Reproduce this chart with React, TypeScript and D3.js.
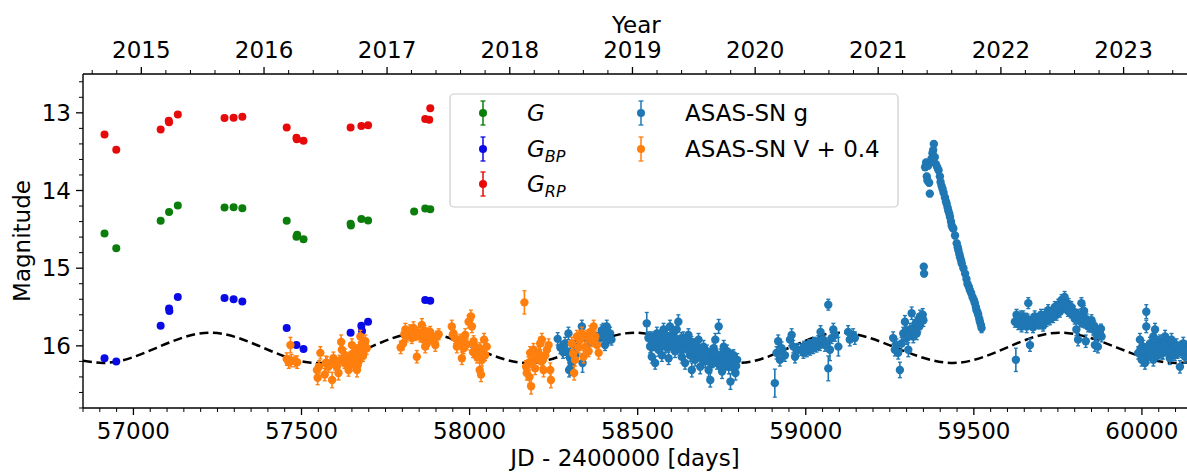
import React from "react";
import * as d3 from "d3";

// ---------------- DATA ----------------
// Gaia photometry: [JD-2400000, mag]
const gaiaG: [number, number][] = [
  [56914, 14.555], [56949, 14.744], [57081, 14.388], [57106, 14.278], [57132, 14.192],
  [57271, 14.218], [57298, 14.214], [57324, 14.227], [57456, 14.388], [57485, 14.594],
  [57487, 14.57], [57506, 14.628], [57646, 14.427], [57647, 14.449], [57678, 14.368],
  [57698, 14.385], [57835, 14.27], [57868, 14.23], [57883, 14.24],
];
const gaiaBP: [number, number][] = [
  [56914, 16.158], [56949, 16.2], [57081, 15.74], [57106, 15.52], [57107, 15.55],
  [57132, 15.37], [57271, 15.385], [57298, 15.4], [57324, 15.43], [57456, 15.77],
  [57485, 15.99], [57506, 16.04], [57646, 15.83], [57678, 15.74], [57680, 15.81],
  [57698, 15.69], [57868, 15.41], [57883, 15.42],
];
const gaiaRP: [number, number][] = [
  [56914, 13.278], [56949, 13.474], [57081, 13.214], [57105, 13.103], [57106, 13.12],
  [57132, 13.02], [57271, 13.068], [57298, 13.064], [57324, 13.051], [57456, 13.19],
  [57485, 13.32], [57486, 13.34], [57506, 13.36], [57646, 13.19], [57678, 13.17],
  [57698, 13.16], [57868, 13.08], [57880, 13.09], [57883, 12.94],
];

// ASAS-SN V + 0.4: [JD-2400000, mag, err]
const asasV: [number, number, number][] = [
  [57456, 16.17, 0.08], [57462, 16.21, 0.08], [57467, 15.99, 0.1], [57470, 16.19, 0.08], [57481, 16.2, 0.07], [57487, 16.21, 0.08],
  [57546, 16.31, 0.08], [57548, 16.41, 0.09], [57552, 16.27, 0.08], [57556, 16.09, 0.08], [57569, 16.37, 0.08], [57572, 16.22, 0.09],
  [57576, 16.22, 0.08], [57580, 16.27, 0.07], [57591, 16.44, 0.1], [57595, 16.16, 0.08], [57600, 16.24, 0.07], [57605, 16.27, 0.08],
  [57610, 16.35, 0.09], [57613, 16.19, 0.07], [57618, 15.95, 0.09], [57620, 16.05, 0.08], [57625, 16.17, 0.07], [57630, 16.12, 0.08],
  [57635, 16.2, 0.07], [57638, 16.26, 0.08], [57640, 16.31, 0.08], [57645, 16.15, 0.07], [57650, 15.99, 0.08], [57652, 16.1, 0.07],
  [57655, 16.24, 0.08], [57658, 16.18, 0.07], [57660, 16.12, 0.08], [57663, 16.06, 0.07], [57665, 16.31, 0.09], [57668, 16.15, 0.07],
  [57670, 16.2, 0.08], [57673, 16.02, 0.07], [57675, 15.88, 0.08], [57678, 16.1, 0.07], [57680, 15.97, 0.08], [57683, 16.13, 0.07],
  [57685, 16.05, 0.08], [57688, 15.99, 0.07], [57690, 15.94, 0.08], [57694, 16.03, 0.08],
  [57628, 16.22, 0.07], [57643, 16.22, 0.07], [57648, 16.18, 0.07], [57662, 16.2, 0.07], [57667, 16.25, 0.07], [57672, 16.12, 0.07],
  [57795, 16.02, 0.08], [57802, 15.97, 0.08], [57806, 15.85, 0.07], [57809, 15.79, 0.08], [57813, 15.88, 0.07], [57818, 15.84, 0.07],
  [57822, 15.8, 0.07], [57828, 15.9, 0.07], [57833, 15.77, 0.08], [57838, 15.86, 0.07], [57843, 16.14, 0.08], [57848, 15.83, 0.07],
  [57853, 15.88, 0.07], [57858, 15.73, 0.08], [57863, 15.92, 0.07], [57866, 15.81, 0.07], [57868, 16.01, 0.08], [57873, 15.97, 0.07],
  [57876, 15.84, 0.07], [57878, 15.86, 0.07], [57883, 15.82, 0.07], [57888, 15.9, 0.07], [57893, 15.92, 0.07], [57898, 15.99, 0.08],
  [57903, 15.88, 0.07], [57908, 15.85, 0.07], [57815, 15.83, 0.06], [57826, 15.84, 0.06], [57845, 15.86, 0.06], [57856, 15.85, 0.06],
  [57947, 15.75, 0.08], [57950, 15.86, 0.07], [57952, 15.84, 0.07], [57957, 15.9, 0.07], [57962, 16.01, 0.08], [57967, 15.95, 0.07],
  [57972, 15.92, 0.07], [57977, 16.16, 0.08], [57982, 16.03, 0.07], [57987, 15.86, 0.08], [57992, 15.98, 0.07], [57997, 15.69, 0.08],
  [58004, 15.62, 0.08], [58007, 15.75, 0.08], [58010, 16.08, 0.07], [58012, 15.94, 0.07], [58017, 16.05, 0.08], [58020, 16.12, 0.07],
  [58022, 16.14, 0.08], [58026, 16.08, 0.07], [58030, 16.31, 0.09], [58031, 16.03, 0.07], [58034, 16.37, 0.09], [58037, 16.18, 0.08],
  [58040, 16.1, 0.07], [58043, 15.92, 0.08], [58046, 16.12, 0.07], [58051, 16.01, 0.08], [57980, 15.95, 0.07], [58015, 16.0, 0.07],
  [58163, 15.44, 0.15], [58168, 16.27, 0.08], [58170, 16.35, 0.09], [58175, 16.22, 0.08], [58178, 16.4, 0.09], [58180, 16.09, 0.08],
  [58183, 16.52, 0.1], [58185, 16.2, 0.08], [58190, 16.05, 0.08], [58195, 16.29, 0.08], [58200, 16.15, 0.07], [58205, 16.09, 0.08],
  [58210, 15.97, 0.08], [58213, 16.2, 0.08], [58215, 15.92, 0.08], [58218, 16.18, 0.08], [58220, 16.31, 0.09], [58225, 16.12, 0.07],
  [58230, 16.05, 0.08], [58235, 15.99, 0.08], [58240, 16.31, 0.09], [58242, 16.44, 0.1],
  [58304, 15.97, 0.08], [58308, 16.1, 0.07], [58311, 16.35, 0.09], [58314, 16.18, 0.08], [58319, 15.88, 0.08], [58324, 16.02, 0.07],
  [58329, 15.92, 0.08], [58334, 15.84, 0.08], [58339, 16.14, 0.08], [58344, 16.01, 0.07], [58349, 15.88, 0.08], [58354, 16.07, 0.07],
  [58359, 15.82, 0.08], [58364, 15.94, 0.07], [58369, 15.75, 0.08], [58374, 15.88, 0.07], [58379, 15.99, 0.07], [58384, 16.09, 0.08],
];

// ASAS-SN g: [JD-2400000, mag, err]
const asasG: [number, number, number][] = [
  [58262, 15.91, 0.08], [58270, 16.02, 0.08], [58278, 16.08, 0.08], [58284, 15.97, 0.08], [58289, 16.07, 0.08], [58294, 15.84, 0.08],
  [58296, 16.31, 0.09], [58299, 16.16, 0.08], [58301, 16.28, 0.1], [58304, 16.22, 0.08], [58308, 16.0, 0.07], [58315, 16.12, 0.08],
  [58322, 15.95, 0.07], [58334, 15.75, 0.08], [58336, 16.22, 0.12], [58345, 15.9, 0.07], [58355, 15.96, 0.07], [58365, 15.85, 0.07],
  [58380, 15.9, 0.07], [58388, 15.88, 0.07], [58393, 15.8, 0.07], [58398, 15.79, 0.08], [58403, 15.99, 0.07], [58408, 15.75, 0.08],
  [58413, 15.9, 0.07], [58418, 15.84, 0.08], [58422, 15.92, 0.07], [58410, 15.82, 0.06], [58400, 15.88, 0.06],
  [58527, 15.71, 0.14], [58532, 15.9, 0.08], [58537, 16.01, 0.08], [58542, 16.14, 0.08], [58547, 15.97, 0.08], [58552, 16.22, 0.08],
  [58557, 15.84, 0.08], [58562, 16.05, 0.08], [58567, 15.92, 0.08], [58572, 16.12, 0.08], [58577, 15.79, 0.08], [58582, 16.01, 0.08],
  [58587, 15.88, 0.08], [58592, 16.16, 0.08], [58596, 15.75, 0.08], [58601, 15.94, 0.08], [58606, 15.84, 0.08], [58611, 16.07, 0.08],
  [58616, 15.79, 0.08], [58621, 15.69, 0.09], [58626, 15.97, 0.08], [58631, 16.14, 0.08], [58636, 15.9, 0.08], [58641, 16.22, 0.08],
  [58646, 16.01, 0.08], [58651, 15.86, 0.08], [58656, 16.12, 0.08], [58661, 16.31, 0.09], [58666, 15.99, 0.08], [58671, 16.18, 0.08],
  [58676, 16.05, 0.08], [58681, 15.92, 0.08], [58686, 16.27, 0.09], [58691, 16.12, 0.08], [58696, 16.01, 0.08], [58701, 16.2, 0.08],
  [58706, 16.07, 0.08], [58711, 16.31, 0.09], [58716, 16.44, 0.09], [58721, 16.16, 0.08], [58726, 16.03, 0.08], [58731, 15.92, 0.08],
  [58736, 16.22, 0.08], [58741, 15.75, 0.09], [58746, 16.12, 0.08], [58751, 16.33, 0.09], [58756, 16.01, 0.08], [58761, 16.18, 0.08],
  [58766, 16.07, 0.08], [58771, 16.27, 0.09], [58776, 16.46, 0.1], [58780, 16.14, 0.08], [58786, 16.22, 0.08], [58791, 16.35, 0.09],
  [58796, 16.18, 0.08],
  [58545, 15.92, 0.07], [58555, 15.95, 0.07], [58565, 15.87, 0.07], [58575, 15.9, 0.07], [58585, 15.95, 0.07], [58598, 15.9, 0.07],
  [58610, 15.92, 0.07], [58620, 15.95, 0.07], [58630, 15.9, 0.07], [58640, 15.98, 0.07], [58650, 16.0, 0.07], [58660, 15.95, 0.07],
  [58670, 16.05, 0.07], [58680, 16.02, 0.07], [58690, 16.05, 0.07], [58700, 16.1, 0.07], [58710, 16.12, 0.07], [58720, 16.08, 0.07],
  [58730, 16.12, 0.07], [58740, 16.15, 0.07], [58750, 16.18, 0.07], [58760, 16.1, 0.07], [58770, 16.15, 0.07], [58785, 16.12, 0.07],
  [58540, 15.88, 0.06], [58550, 16.0, 0.06], [58560, 15.96, 0.06], [58570, 16.0, 0.06], [58580, 15.85, 0.06], [58590, 16.02, 0.06],
  [58603, 16.0, 0.06], [58613, 15.96, 0.06], [58623, 16.03, 0.06], [58633, 16.05, 0.06], [58643, 15.93, 0.06], [58653, 16.06, 0.06],
  [58663, 16.08, 0.06], [58673, 15.98, 0.06], [58683, 16.1, 0.06], [58693, 16.18, 0.06], [58703, 16.15, 0.06], [58713, 16.2, 0.06],
  [58723, 16.22, 0.06], [58733, 16.1, 0.06], [58743, 16.24, 0.06], [58753, 16.12, 0.06], [58763, 16.25, 0.06], [58773, 16.2, 0.06],
  [58783, 16.28, 0.06], [58793, 16.26, 0.06],
  [58908, 16.48, 0.18], [58913, 16.09, 0.08], [58918, 15.94, 0.08], [58923, 16.18, 0.08], [58928, 16.03, 0.08], [58938, 16.12, 0.08],
  [58953, 15.92, 0.08], [58958, 15.86, 0.08], [58963, 16.01, 0.08], [58968, 16.14, 0.08], [58977, 16.05, 0.08],
  [58988, 16.05, 0.07], [58993, 16.09, 0.07], [58998, 16.03, 0.07], [59003, 16.07, 0.07], [59008, 16.01, 0.07], [59013, 16.05, 0.07],
  [59018, 15.99, 0.07], [59022, 16.03, 0.07], [59027, 15.97, 0.07], [59032, 16.01, 0.07], [59037, 15.94, 0.07], [59042, 15.99, 0.07],
  [59044, 15.82, 0.08], [59052, 15.92, 0.07], [59057, 15.99, 0.08], [59062, 15.97, 0.07], [59067, 15.47, 0.07], [59067, 16.29, 0.16],
  [59072, 16.05, 0.14], [59077, 15.9, 0.07], [59082, 15.79, 0.08], [59087, 15.86, 0.08], [59097, 16.01, 0.12], [59126, 15.82, 0.08],
  [59131, 15.92, 0.08], [59141, 15.86, 0.08], [59146, 15.9, 0.08], [58995, 16.0, 0.06], [59010, 15.98, 0.06], [59025, 15.95, 0.06],
  [59260, 15.9, 0.08], [59265, 16.05, 0.08], [59270, 15.99, 0.08], [59275, 16.09, 0.08], [59280, 16.31, 0.1], [59285, 15.97, 0.08],
  [59290, 15.84, 0.08], [59295, 15.69, 0.08], [59300, 15.9, 0.08], [59305, 16.05, 0.09], [59310, 15.79, 0.08], [59315, 15.58, 0.08],
  [59320, 15.88, 0.08], [59325, 15.75, 0.08], [59330, 15.84, 0.08], [59335, 15.69, 0.08], [59340, 15.62, 0.08], [59348, 15.6, 0.08],
  [59350, 15.67, 0.08], [59298, 15.8, 0.07], [59308, 15.85, 0.07], [59318, 15.78, 0.07], [59328, 15.7, 0.07], [59338, 15.75, 0.07],
  [59351, 14.98, 0.04], [59352, 15.07, 0.04], [59355, 13.7, 0.04], [59358, 13.64, 0.04], [59360, 13.82, 0.04], [59362, 13.87, 0.04],
  [59364, 13.68, 0.04], [59367, 13.9, 0.04], [59369, 14.04, 0.04], [59372, 13.63, 0.04], [59374, 13.59, 0.04], [59377, 13.52, 0.04],
  [59379, 13.48, 0.04], [59381, 13.4, 0.04], [59384, 13.57, 0.04], [59387, 13.66, 0.04], [59391, 13.7, 0.04], [59395, 13.74, 0.04],
  [59399, 13.82, 0.04], [59401, 13.89, 0.04], [59404, 13.94, 0.04], [59407, 13.98, 0.04], [59410, 14.03, 0.04], [59414, 14.09, 0.04],
  [59417, 14.14, 0.04], [59419, 14.17, 0.04], [59422, 14.22, 0.04], [59424, 14.26, 0.04], [59427, 14.3, 0.04], [59429, 14.34, 0.04],
  [59432, 14.4, 0.04], [59434, 14.45, 0.04], [59437, 14.48, 0.04], [59439, 14.49, 0.04], [59444, 14.58, 0.04], [59449, 14.68, 0.04],
  [59452, 14.73, 0.04], [59454, 14.77, 0.04], [59457, 14.82, 0.04], [59459, 14.86, 0.04], [59462, 14.9, 0.04], [59464, 14.94, 0.04],
  [59469, 15.0, 0.04], [59474, 15.07, 0.04], [59478, 15.14, 0.04], [59481, 15.2, 0.04], [59485, 15.24, 0.04], [59488, 15.28, 0.04],
  [59492, 15.32, 0.04], [59496, 15.37, 0.04], [59500, 15.41, 0.04], [59503, 15.45, 0.04], [59506, 15.5, 0.04], [59508, 15.54, 0.04],
  [59511, 15.57, 0.04], [59513, 15.6, 0.04], [59516, 15.65, 0.04], [59518, 15.69, 0.04], [59521, 15.73, 0.05], [59523, 15.77, 0.06],
  [59622, 15.69, 0.07], [59625, 16.18, 0.15], [59627, 15.6, 0.07], [59632, 15.72, 0.07], [59637, 15.67, 0.07], [59642, 15.75, 0.07],
  [59647, 15.62, 0.07], [59652, 15.7, 0.07], [59657, 15.75, 0.08], [59662, 15.45, 0.07], [59667, 15.99, 0.08], [59672, 15.69, 0.07],
  [59676, 15.76, 0.07], [59681, 15.62, 0.07], [59686, 15.7, 0.07], [59691, 15.71, 0.07], [59696, 15.65, 0.07], [59701, 15.67, 0.07],
  [59706, 15.74, 0.07], [59711, 15.6, 0.07], [59716, 15.68, 0.07], [59721, 15.54, 0.07], [59726, 15.66, 0.07], [59731, 15.58, 0.07],
  [59736, 15.63, 0.07], [59741, 15.5, 0.07], [59746, 15.6, 0.07], [59751, 15.47, 0.07], [59756, 15.56, 0.07], [59761, 15.41, 0.07],
  [59765, 15.5, 0.07], [59770, 15.37, 0.07], [59775, 15.47, 0.07], [59780, 15.55, 0.07], [59785, 15.54, 0.07], [59790, 15.5, 0.07],
  [59795, 15.6, 0.07], [59800, 15.65, 0.07], [59805, 15.79, 0.08], [59810, 15.92, 0.08], [59815, 15.68, 0.07], [59820, 15.45, 0.07],
  [59825, 15.62, 0.07], [59830, 15.7, 0.07], [59833, 15.94, 0.08], [59836, 15.66, 0.07], [59840, 15.75, 0.07], [59845, 15.72, 0.07],
  [59850, 15.67, 0.07], [59855, 15.79, 0.07], [59860, 15.99, 0.08], [59865, 15.86, 0.07], [59869, 16.01, 0.08], [59875, 15.84, 0.07],
  [59880, 15.88, 0.07], [59640, 15.62, 0.07], [59660, 15.66, 0.07], [59680, 15.7, 0.07], [59700, 15.6, 0.07], [59720, 15.62, 0.07],
  [59740, 15.56, 0.07], [59760, 15.48, 0.07], [59782, 15.46, 0.07], [59798, 15.56, 0.07], [59812, 15.6, 0.07], [59828, 15.55, 0.07],
  [59630, 15.65, 0.06], [59645, 15.7, 0.06], [59655, 15.64, 0.06], [59665, 15.72, 0.06], [59675, 15.66, 0.06], [59685, 15.66, 0.06],
  [59695, 15.72, 0.06], [59705, 15.64, 0.06], [59715, 15.62, 0.06], [59725, 15.6, 0.06], [59735, 15.56, 0.06], [59745, 15.53, 0.06],
  [59755, 15.5, 0.06], [59768, 15.45, 0.06], [59778, 15.5, 0.06], [59788, 15.58, 0.06], [59803, 15.6, 0.06], [59818, 15.65, 0.06],
  [59823, 15.7, 0.06], [59838, 15.7, 0.06], [59848, 15.76, 0.06], [59858, 15.74, 0.06], [59870, 15.8, 0.06], [59878, 15.78, 0.06],
  [59989, 16.09, 0.08], [59994, 15.92, 0.08], [59999, 16.18, 0.08], [60004, 16.01, 0.08], [60009, 16.22, 0.08], [60013, 15.56, 0.09],
  [60013, 15.75, 0.08], [60019, 16.14, 0.08], [60024, 15.97, 0.08], [60029, 16.08, 0.07], [60034, 15.88, 0.08], [60034, 16.18, 0.08],
  [60039, 15.79, 0.08], [60043, 16.05, 0.08], [60048, 15.95, 0.07], [60054, 15.94, 0.08], [60058, 16.1, 0.07], [60063, 16.09, 0.08],
  [60069, 15.88, 0.08], [60073, 16.01, 0.08], [60078, 15.96, 0.07], [60083, 16.16, 0.08], [60088, 15.92, 0.08], [60093, 16.05, 0.08],
  [60098, 16.12, 0.07], [60103, 15.99, 0.08], [60108, 16.05, 0.07], [60113, 16.27, 0.08], [60118, 16.07, 0.08], [60123, 15.97, 0.08],
  [60128, 16.14, 0.08], [60133, 16.02, 0.08], [60138, 16.1, 0.08], [59996, 16.04, 0.06], [60006, 16.08, 0.06], [60016, 16.03, 0.06],
  [60026, 16.1, 0.06], [60036, 16.02, 0.06], [60046, 16.12, 0.06], [60056, 16.02, 0.06], [60066, 16.0, 0.06], [60076, 16.08, 0.06],
  [60086, 16.05, 0.06], [60096, 15.98, 0.06], [60106, 16.1, 0.06], [60116, 16.0, 0.06], [60126, 16.06, 0.06],
];

// Sinusoidal model: extrema [JD-2400000, mag]
const modelPoints: [number, number][] = [
  [56850, 16.19], [56910, 16.22], [57228, 15.83], [57545, 16.22], [57855, 15.83], [58172, 16.22],
  [58492, 15.83], [58800, 16.22], [59100, 15.83], [59438, 16.22], [59755, 15.83], [60100, 16.22], [60143, 16.21],
];

const xTicks = [57000, 57500, 58000, 58500, 59000, 59500, 60000];
const yTicks = [13, 14, 15, 16];
const yearTicks = [2015, 2016, 2017, 2018, 2019, 2020, 2021, 2022, 2023];
const yearJD = [57023.5, 57388.5, 57754.5, 58119.5, 58484.5, 58849.5, 59215.5, 59580.5, 59945.5];

const COL_G = "#0a7d0a";
const COL_BP = "#0a0ae6";
const COL_RP = "#e60a0a";
const COL_ASG = "#1f77b4";
const COL_ASV = "#ff7f0e";

// ---------------- LAYOUT ----------------
const W = 1187;
const H = 472;
const L = 83, R = 1190, T = 74, B = 408;
const FONT = "DejaVu Sans, sans-serif";
const FS = 23;

export default function App() {
  const x = d3.scaleLinear().domain([56850, 60143]).range([L, R]);
  const y = d3.scaleLinear().domain([12.5, 16.8]).range([T, B]);

  const xMinor = d3.range(56850, 60150, 50).filter((v) => !xTicks.includes(v));
  const yMinor = d3.range(12.6, 16.8, 0.2).map((v) => Math.round(v * 10) / 10).filter((v) => !yTicks.includes(v));
  const yearMinor = d3.range(2014.6, 2023.8, 0.2).map((v) => Math.round(v * 10) / 10).filter((v) => Math.abs(v - Math.round(v)) > 0.01);
  const yearToJD = (yr: number) => 57023.5 + (yr - 2015) * 365.25;

  const line = d3
    .line<[number, number]>()
    .x((d) => x(d[0]))
    .y((d) => y(d[1]))
    .curve(d3.curveMonotoneX);

  const errPts = (data: [number, number, number][], color: string, key: string) =>
    data.map((d, i) => {
      const cx = x(d[0]);
      const y1 = y(d[1] - d[2]);
      const y2 = y(d[1] + d[2]);
      return (
        <g key={key + i}>
          <line x1={cx} x2={cx} y1={y1} y2={y2} stroke={color} strokeWidth={1.6} />
          <line x1={cx - 2} x2={cx + 2} y1={y1} y2={y1} stroke={color} strokeWidth={1.3} />
          <line x1={cx - 2} x2={cx + 2} y1={y2} y2={y2} stroke={color} strokeWidth={1.3} />
          <circle cx={cx} cy={y(d[1])} r={4.2} fill={color} />
        </g>
      );
    });

  const dots = (data: [number, number][], color: string, key: string) =>
    data.map((d, i) => <circle key={key + i} cx={x(d[0])} cy={y(d[1])} r={4} fill={color} />);

  const legendItem = (cx: number, cy: number, color: string) => (
    <g>
      <line x1={cx} x2={cx} y1={cy - 12} y2={cy + 12} stroke={color} strokeWidth={1.5} />
      <line x1={cx - 2.5} x2={cx + 2.5} y1={cy - 12} y2={cy - 12} stroke={color} strokeWidth={1.3} />
      <line x1={cx - 2.5} x2={cx + 2.5} y1={cy + 12} y2={cy + 12} stroke={color} strokeWidth={1.3} />
      <circle cx={cx} cy={cy} r={4} fill={color} />
    </g>
  );

  return (
    <svg
      width={W}
      height={H}
      style={{ position: "absolute", left: 0, top: 0, background: "#fff" }}
      fontFamily={FONT}
    >
      <defs>
        <clipPath id="plotclip">
          <rect x={L} y={T} width={R - L} height={B - T} />
        </clipPath>
      </defs>
      <rect x={0} y={0} width={W} height={H} fill="#fff" />

      <g clipPath="url(#plotclip)">
        <path d={line(modelPoints) || ""} fill="none" stroke="#000" strokeWidth={2.5} strokeDasharray="9,4.5" />
        {dots(gaiaRP, COL_RP, "rp")}
        {dots(gaiaG, COL_G, "g")}
        {dots(gaiaBP, COL_BP, "bp")}
        {errPts(asasG, COL_ASG, "ag")}
        {errPts(asasV, COL_ASV, "v")}
      </g>

      {/* spines */}
      <line x1={L} x2={L} y1={T} y2={B} stroke="#000" strokeWidth={1.4} />
      <line x1={L} x2={R} y1={B} y2={B} stroke="#000" strokeWidth={1.4} />
      <line x1={L} x2={R} y1={T} y2={T} stroke="#000" strokeWidth={1.4} />

      {/* bottom axis */}
      {xTicks.map((t) => (
        <g key={"xt" + t}>
          <line x1={x(t)} x2={x(t)} y1={B} y2={B + 7} stroke="#000" strokeWidth={1.3} />
          <text x={x(t)} y={439} fontSize={FS} textAnchor="middle">{t}</text>
        </g>
      ))}
      {xMinor.map((t) => (
        <line key={"xm" + t} x1={x(t)} x2={x(t)} y1={B} y2={B + 4} stroke="#000" strokeWidth={1} />
      ))}
      <text x={(L + 1187) / 2 - 10} y={466} fontSize={FS} textAnchor="middle">JD - 2400000 [days]</text>

      {/* left axis */}
      {yTicks.map((t) => (
        <g key={"yt" + t}>
          <line x1={L - 7} x2={L} y1={y(t)} y2={y(t)} stroke="#000" strokeWidth={1.3} />
          <text x={71} y={y(t)} dy="0.36em" fontSize={FS} textAnchor="end">{t}</text>
        </g>
      ))}
      {yMinor.map((t) => (
        <line key={"ym" + t} x1={L - 4} x2={L} y1={y(t)} y2={y(t)} stroke="#000" strokeWidth={1} />
      ))}
      <text transform={`translate(29.5, ${(T + B) / 2}) rotate(-90)`} fontSize={FS} textAnchor="middle">Magnitude</text>

      {/* top axis (years) */}
      {yearTicks.map((t, i) => (
        <g key={"yr" + t}>
          <line x1={x(yearJD[i])} x2={x(yearJD[i])} y1={T - 7} y2={T} stroke="#000" strokeWidth={1.3} />
          <text x={x(yearJD[i])} y={58} fontSize={FS} textAnchor="middle">{t}</text>
        </g>
      ))}
      {yearMinor.map((t) => {
        const px = x(yearToJD(t));
        if (px < L || px > R) return null;
        return <line key={"ymn" + t} x1={px} x2={px} y1={T - 4} y2={T} stroke="#000" strokeWidth={1} />;
      })}
      <text x={x(58484.5) + 4} y={33} fontSize={FS} textAnchor="middle">Year</text>

      {/* legend */}
      <rect x={450} y={94} width={448} height={113} rx={4} fill="#fff" fillOpacity={0.85} stroke="#cccccc" strokeWidth={1.2} />
      {legendItem(483, 113, COL_G)}
      {legendItem(483, 149, COL_BP)}
      {legendItem(483, 184, COL_RP)}
      {legendItem(641, 113, COL_ASG)}
      {legendItem(641, 149, COL_ASV)}
      <text x={527} y={121} fontSize={FS} fontStyle="italic">G</text>
      <text x={527} y={157} fontSize={FS} fontStyle="italic">
        G<tspan fontSize={16} dy={5}>BP</tspan>
      </text>
      <text x={527} y={192} fontSize={FS} fontStyle="italic">
        G<tspan fontSize={16} dy={5}>RP</tspan>
      </text>
      <text x={685} y={121} fontSize={FS}>ASAS-SN g</text>
      <text x={685} y={157} fontSize={FS}>ASAS-SN V + 0.4</text>
    </svg>
  );
}
